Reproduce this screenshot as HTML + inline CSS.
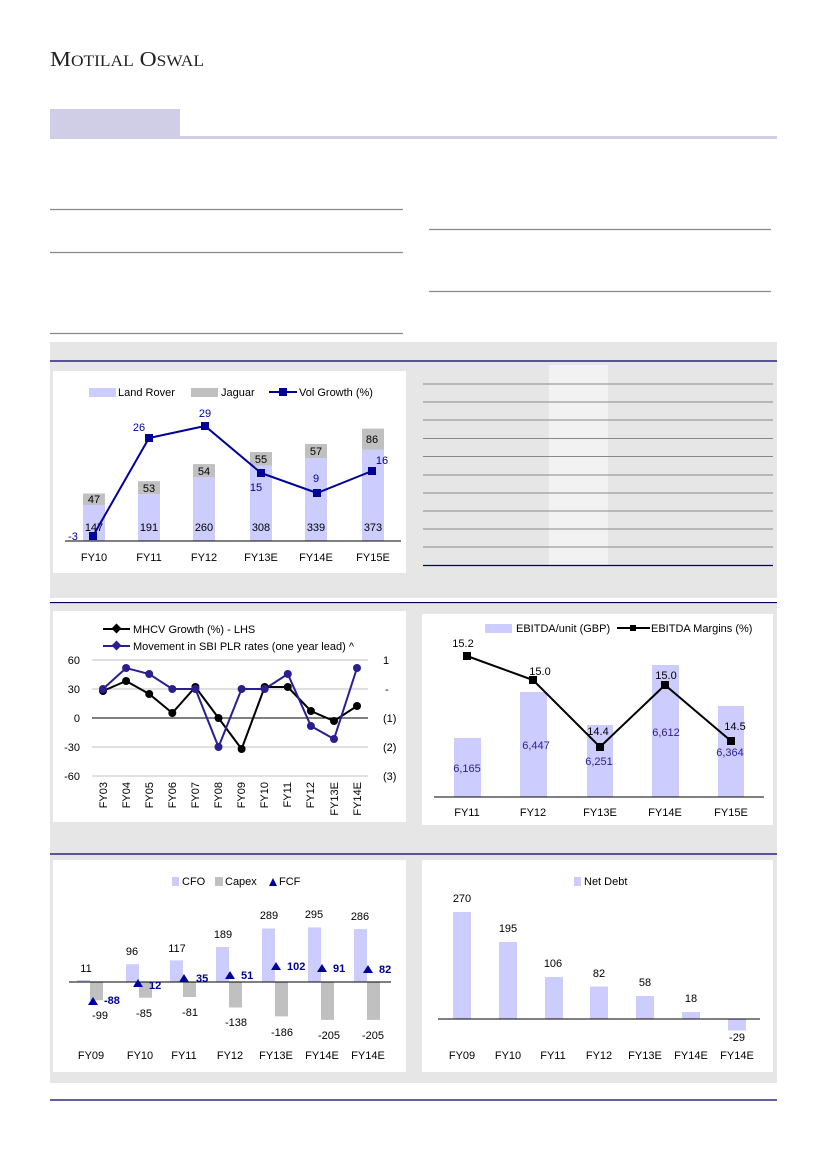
<!DOCTYPE html>
<html><head><meta charset="utf-8"><style>
html,body{margin:0;padding:0;background:#fff}
svg{display:block}
text{font-family:"Liberation Sans",sans-serif;font-size:11px;fill:#000}
</style></head><body>
<svg width="826" height="1169" viewBox="0 0 826 1169" xmlns="http://www.w3.org/2000/svg">
<!-- Header -->
<text x="50" y="66" textLength="154" lengthAdjust="spacingAndGlyphs" style="font-family:'Liberation Serif',serif;font-size:21px;fill:#222">M<tspan style="font-size:15.5px">OTILAL</tspan> O<tspan style="font-size:15.5px">SWAL</tspan></text>
<rect x="50" y="109" width="130" height="30" fill="#d0cee6"/>
<rect x="50" y="136" width="727" height="3" fill="#d0cee6"/>
<g stroke="#888" stroke-width="1.3">
<line x1="50" y1="209.5" x2="403" y2="209.5"/>
<line x1="50" y1="252.5" x2="403" y2="252.5"/>
<line x1="50" y1="333.5" x2="403" y2="333.5"/>
<line x1="429" y1="229.5" x2="771" y2="229.5"/>
<line x1="429" y1="291.5" x2="771" y2="291.5"/>
</g>

<!-- Panels -->
<rect x="50" y="342" width="727" height="256" fill="#e6e6e6"/>
<line x1="50" y1="361" x2="777" y2="361" stroke="#000066" stroke-width="1.3"/>
<rect x="50" y="592" width="727" height="255" fill="#e6e6e6"/>
<line x1="50" y1="602.5" x2="777" y2="602.5" stroke="#000066" stroke-width="1.3"/>
<rect x="50" y="843" width="727" height="240" fill="#e6e6e6"/>
<line x1="50" y1="854" x2="777" y2="854" stroke="#000066" stroke-width="1.3"/>
<line x1="50" y1="1100" x2="777" y2="1100" stroke="#000066" stroke-width="1.3"/>
<rect x="50" y="598" width="727" height="4" fill="#fff"/>

<!-- Chart 1 -->
<rect x="53" y="371" width="353" height="202" fill="#fff"/>
<rect x="89" y="388" width="27" height="9" fill="#ccccff"/><text x="118" y="396">Land Rover</text>
<rect x="191" y="388" width="27" height="9" fill="#c0c0c0"/><text x="221" y="396">Jaguar</text>
<line x1="269" y1="392" x2="297" y2="392" stroke="#000099" stroke-width="2"/><rect x="279" y="388" width="8" height="8" fill="#000099"/><text x="299" y="396">Vol Growth (%)</text>
<g fill="#ccccff">
<rect x="83" y="505" width="22" height="36"/><rect x="138" y="494.2" width="22" height="46.8"/><rect x="193" y="477.3" width="22" height="63.7"/>
<rect x="250" y="465.5" width="22" height="75.5"/><rect x="305" y="458" width="22" height="83"/><rect x="362" y="449.6" width="22" height="91.4"/>
</g>
<g fill="#c0c0c0">
<rect x="83" y="493.5" width="22" height="11.5"/><rect x="138" y="481.2" width="22" height="13"/><rect x="193" y="464.1" width="22" height="13.2"/>
<rect x="250" y="452" width="22" height="13.5"/><rect x="305" y="444" width="22" height="14"/><rect x="362" y="428.6" width="22" height="21"/>
</g>
<line x1="65" y1="541" x2="401" y2="541" stroke="#000" stroke-width="1"/>
<g text-anchor="middle">
<text x="94" y="531">147</text><text x="149" y="531">191</text><text x="204" y="531">260</text><text x="261" y="531">308</text><text x="316" y="531">339</text><text x="373" y="531">373</text>
<text x="94" y="503">47</text><text x="149" y="492">53</text><text x="204" y="475">54</text><text x="261" y="463">55</text><text x="316" y="455">57</text><text x="372" y="443">86</text>
<text x="94" y="561">FY10</text><text x="149" y="561">FY11</text><text x="204" y="561">FY12</text><text x="261" y="561">FY13E</text><text x="316" y="561">FY14E</text><text x="373" y="561">FY15E</text>
</g>
<polyline points="93,536 149,438 205,426 261,473 317,493 372,471" fill="none" stroke="#000099" stroke-width="2"/>
<g fill="#000099"><rect x="89" y="532" width="8" height="8"/><rect x="145" y="434" width="8" height="8"/><rect x="201" y="422" width="8" height="8"/><rect x="257" y="469" width="8" height="8"/><rect x="313" y="489" width="8" height="8"/><rect x="368" y="467" width="8" height="8"/></g>
<g text-anchor="middle">
<text x="73" y="540" style="fill:#000099">-3</text><text x="139" y="431" style="fill:#000099">26</text><text x="205" y="417" style="fill:#000099">29</text><text x="256" y="491" style="fill:#000099">15</text><text x="316" y="482" style="fill:#000099">9</text><text x="382" y="464" style="fill:#000099">16</text>
</g>

<!-- Table -->
<rect x="549" y="365" width="59" height="201" fill="#f2f2f2"/>
<g stroke="#888" stroke-width="1">
<line x1="423" y1="384" x2="773" y2="384"/><line x1="423" y1="402" x2="773" y2="402"/><line x1="423" y1="420" x2="773" y2="420"/><line x1="423" y1="438.5" x2="773" y2="438.5"/><line x1="423" y1="456.5" x2="773" y2="456.5"/><line x1="423" y1="475" x2="773" y2="475"/><line x1="423" y1="493" x2="773" y2="493"/><line x1="423" y1="511" x2="773" y2="511"/><line x1="423" y1="529" x2="773" y2="529"/><line x1="423" y1="547" x2="773" y2="547"/>
</g>
<line x1="423" y1="565.5" x2="773" y2="565.5" stroke="#000066" stroke-width="1.2"/>

<!-- Chart 2 -->
<rect x="53" y="611" width="353" height="211" fill="#fff"/>
<line x1="103" y1="629" x2="130" y2="629" stroke="#000" stroke-width="2"/><rect x="113" y="625" width="7" height="7" transform="rotate(45 116.5 628.5)" fill="#000"/><text x="133" y="633">MHCV Growth (%) - LHS</text>
<line x1="103" y1="646" x2="130" y2="646" stroke="#2a1f8f" stroke-width="2"/><rect x="113" y="642" width="7" height="7" transform="rotate(45 116.5 645.5)" fill="#2a1f8f"/><text x="133" y="650">Movement in SBI PLR  rates (one year lead) ^</text>
<g stroke="#c0c0c0" stroke-width="1"><line x1="92" y1="660" x2="368" y2="660"/><line x1="92" y1="689" x2="368" y2="689"/><line x1="92" y1="747" x2="368" y2="747"/><line x1="92" y1="776" x2="368" y2="776"/></g>
<line x1="92" y1="718" x2="368" y2="718" stroke="#000"/>
<g text-anchor="end"><text x="80" y="664">60</text><text x="80" y="693">30</text><text x="80" y="722">0</text><text x="80" y="751">-30</text><text x="80" y="780">-60</text></g>
<g><text x="383" y="664">1</text><text x="385" y="693">-</text><text x="383" y="722">(1)</text><text x="383" y="751">(2)</text><text x="383" y="780">(3)</text></g>
<polyline points="103,691 126.1,681 149.2,694 172.3,713 195.4,687 218.5,718 241.6,749 264.7,687 287.8,687 310.9,711 334,721 357,706" fill="none" stroke="#000" stroke-width="2"/>
<polyline points="103,689 126.1,668 149.2,674 172.3,689 195.4,689 218.5,747 241.6,689 264.7,689 287.8,674 310.9,726 334,739 357,668" fill="none" stroke="#2a1f8f" stroke-width="2"/>
<g fill="#000">
<circle cx="103" cy="691" r="4"/><circle cx="126.1" cy="681" r="4"/><circle cx="149.2" cy="694" r="4"/><circle cx="172.3" cy="713" r="4"/><circle cx="195.4" cy="687" r="4"/><circle cx="218.5" cy="718" r="4"/><circle cx="241.6" cy="749" r="4"/><circle cx="264.7" cy="687" r="4"/><circle cx="287.8" cy="687" r="4"/><circle cx="310.9" cy="711" r="4"/><circle cx="334" cy="721" r="4"/><circle cx="357" cy="706" r="4"/>
</g>
<g fill="#2a1f8f">
<circle cx="103" cy="689" r="4"/><circle cx="126.1" cy="668" r="4"/><circle cx="149.2" cy="674" r="4"/><circle cx="172.3" cy="689" r="4"/><circle cx="195.4" cy="689" r="4"/><circle cx="218.5" cy="747" r="4"/><circle cx="241.6" cy="689" r="4"/><circle cx="264.7" cy="689" r="4"/><circle cx="287.8" cy="674" r="4"/><circle cx="310.9" cy="726" r="4"/><circle cx="334" cy="739" r="4"/><circle cx="357" cy="668" r="4"/>
</g>
<g text-anchor="end">
<text transform="translate(107,782) rotate(-90)">FY03</text><text transform="translate(130,782) rotate(-90)">FY04</text><text transform="translate(153,782) rotate(-90)">FY05</text><text transform="translate(176,782) rotate(-90)">FY06</text><text transform="translate(199,782) rotate(-90)">FY07</text><text transform="translate(222,782) rotate(-90)">FY08</text><text transform="translate(245,782) rotate(-90)">FY09</text><text transform="translate(268,782) rotate(-90)">FY10</text><text transform="translate(291,782) rotate(-90)">FY11</text><text transform="translate(314,782) rotate(-90)">FY12</text><text transform="translate(338,782) rotate(-90)">FY13E</text><text transform="translate(361,782) rotate(-90)">FY14E</text>
</g>

<!-- Chart 3 -->
<rect x="422" y="614" width="351" height="211" fill="#fff"/>
<rect x="485" y="624" width="27" height="9" fill="#ccccff"/><text x="516" y="632">EBITDA/unit (GBP)</text>
<line x1="617" y1="628" x2="650" y2="628" stroke="#000" stroke-width="2"/><rect x="630" y="625" width="6" height="6" fill="#000"/><text x="651" y="632">EBITDA Margins (%)</text>
<g fill="#ccccff"><rect x="454" y="738" width="27" height="59"/><rect x="520" y="692" width="27" height="105"/><rect x="587" y="725" width="26" height="72"/><rect x="652" y="665" width="27" height="132"/><rect x="718" y="706" width="26" height="91"/></g>
<line x1="434" y1="797" x2="764" y2="797" stroke="#000"/>
<polyline points="467,656 533,680 600,747 665,685 731,741" fill="none" stroke="#000" stroke-width="2"/>
<g fill="#000"><rect x="463" y="652" width="8" height="8"/><rect x="529" y="676" width="8" height="8"/><rect x="596" y="743" width="8" height="8"/><rect x="661" y="681" width="8" height="8"/><rect x="727" y="737" width="8" height="8"/></g>
<g text-anchor="middle">
<text x="463" y="647">15.2</text><text x="540" y="675">15.0</text><text x="598" y="735">14.4</text><text x="666" y="679">15.0</text><text x="735" y="730">14.5</text>
<text x="467" y="772" style="fill:#2a1f8f">6,165</text><text x="536" y="749" style="fill:#2a1f8f">6,447</text><text x="599" y="765" style="fill:#2a1f8f">6,251</text><text x="666" y="736" style="fill:#2a1f8f">6,612</text><text x="730" y="756" style="fill:#2a1f8f">6,364</text>
<text x="467" y="816">FY11</text><text x="533" y="816">FY12</text><text x="600" y="816">FY13E</text><text x="665" y="816">FY14E</text><text x="731" y="816">FY15E</text>
</g>

<!-- Chart 4 -->
<rect x="53" y="860" width="353" height="212" fill="#fff"/>
<rect x="172" y="877" width="7" height="9" fill="#ccccff"/><text x="182" y="885">CFO</text>
<rect x="215" y="877" width="8" height="9" fill="#c0c0c0"/><text x="225" y="885">Capex</text>
<polygon points="269,886 273,878 277,886" fill="#000099"/><text x="279" y="885">FCF</text>
<g fill="#ccccff">
<rect x="77" y="980" width="13" height="2"/><rect x="126" y="964.2" width="13" height="17.8"/><rect x="170" y="960.4" width="13" height="21.6"/><rect x="216" y="947" width="13" height="35"/><rect x="262" y="928.5" width="13" height="53.5"/><rect x="308" y="927.4" width="13" height="54.6"/><rect x="354" y="929.1" width="13" height="52.9"/>
</g>
<g fill="#c0c0c0">
<rect x="90" y="982" width="13" height="18.3"/><rect x="139" y="982" width="13" height="15.7"/><rect x="183" y="982" width="13" height="15"/><rect x="229" y="982" width="13" height="25.5"/><rect x="275" y="982" width="13" height="34.4"/><rect x="321" y="982" width="13" height="37.9"/><rect x="367" y="982" width="13" height="37.9"/>
</g>
<line x1="69" y1="982" x2="391" y2="982" stroke="#000"/>
<g fill="#000099">
<polygon points="88,1005 93,997 98,1005"/><polygon points="133,987 138,979 143,987"/><polygon points="179,982 184,974 189,982"/><polygon points="225,979 230,971 235,979"/><polygon points="271,970 276,962 281,970"/><polygon points="317,972 322,964 327,972"/><polygon points="363,973 368,965 373,973"/>
</g>
<g style="font-weight:bold">
<text x="104" y="1004" style="fill:#000099">-88</text><text x="149" y="989" style="fill:#000099">12</text><text x="196" y="982" style="fill:#000099">35</text><text x="241" y="979" style="fill:#000099">51</text><text x="287" y="970" style="fill:#000099">102</text><text x="333" y="972" style="fill:#000099">91</text><text x="379" y="973" style="fill:#000099">82</text>
</g>
<g text-anchor="middle">
<text x="86" y="972">11</text><text x="132" y="955">96</text><text x="177" y="952">117</text><text x="223" y="938">189</text><text x="269" y="919">289</text><text x="314" y="918">295</text><text x="360" y="920">286</text>
<text x="100" y="1019">-99</text><text x="144" y="1017">-85</text><text x="190" y="1016">-81</text><text x="236" y="1026">-138</text><text x="282" y="1036">-186</text><text x="329" y="1039">-205</text><text x="373" y="1039">-205</text>
<text x="91" y="1059">FY09</text><text x="140" y="1059">FY10</text><text x="184" y="1059">FY11</text><text x="230" y="1059">FY12</text><text x="276" y="1059">FY13E</text><text x="322" y="1059">FY14E</text><text x="368" y="1059">FY14E</text>
</g>

<!-- Chart 5 -->
<rect x="422" y="860" width="351" height="212" fill="#fff"/>
<rect x="574" y="877" width="7" height="9" fill="#ccccff"/><text x="584" y="885">Net Debt</text>
<g fill="#ccccff">
<rect x="453" y="912" width="18" height="107"/><rect x="499" y="942" width="18" height="77"/><rect x="545" y="977" width="18" height="42"/><rect x="590" y="986.5" width="18" height="32.5"/><rect x="636" y="996" width="18" height="23"/><rect x="682" y="1012" width="18" height="7"/><rect x="728" y="1019" width="18" height="11.5"/>
</g>
<line x1="438" y1="1019" x2="760" y2="1019" stroke="#000"/>
<g text-anchor="middle">
<text x="462" y="902">270</text><text x="508" y="932">195</text><text x="553" y="967">106</text><text x="599" y="977">82</text><text x="645" y="986">58</text><text x="691" y="1002">18</text><text x="737" y="1041">-29</text>
<text x="462" y="1059">FY09</text><text x="508" y="1059">FY10</text><text x="553" y="1059">FY11</text><text x="599" y="1059">FY12</text><text x="645" y="1059">FY13E</text><text x="691" y="1059">FY14E</text><text x="737" y="1059">FY14E</text>
</g>
</svg>
</body></html>
